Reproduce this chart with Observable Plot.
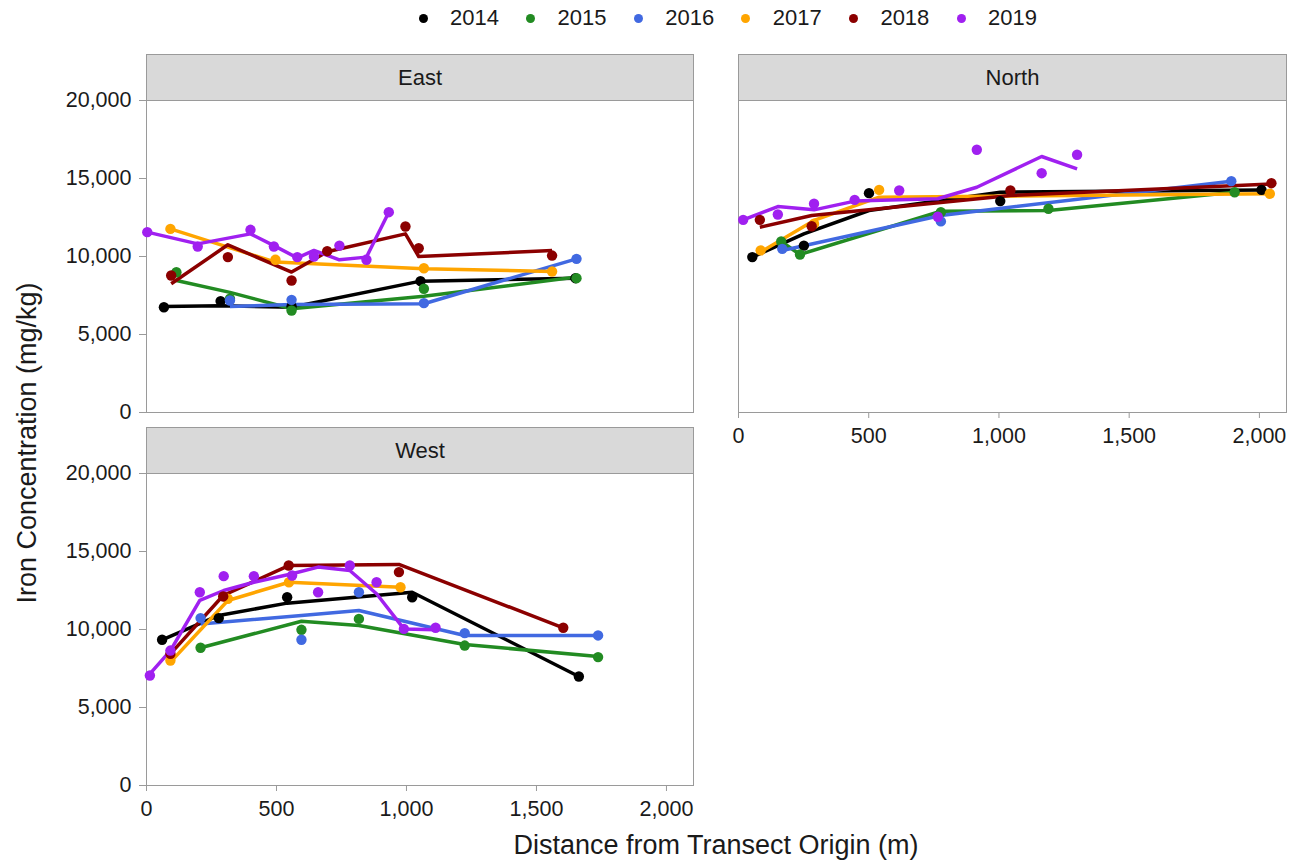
<!DOCTYPE html>
<html>
<head>
<meta charset="utf-8">
<script src="https://cdn.jsdelivr.net/npm/d3@7"></script>
<script src="https://cdn.jsdelivr.net/npm/@observablehq/plot@0.6"></script>
<style>
  body { margin: 0; background: #fff; font-family: "Liberation Sans", Arial, sans-serif; }
  #chart { position: relative; width: 1301px; height: 863px; overflow: hidden; background: #fff; }
  #chart svg { position: absolute; overflow: visible; }
  .strip { position: absolute; box-sizing: border-box; background: #d9d9d9; border: 1px solid #9a9a9a;
           display: flex; align-items: center; justify-content: center; font-size: 22px; color: #1a1a1a; }
  .legend-dot { position: absolute; width: 9px; height: 9px; border-radius: 50%; }
  .legend-label { position: absolute; font-size: 22px; color: #1a1a1a; line-height: 1; }
  .title { position: absolute; font-size: 27px; color: #1a1a1a; white-space: nowrap; line-height: 1; }
</style>
</head>
<body>
<div id="chart"></div>
<script>
// Sampling years and their colours
const years = ["2014", "2015", "2016", "2017", "2018", "2019"];
const yearColors = ["#000000", "#228B22", "#4169E1", "#FFA500", "#8B0000", "#A020F0"];

// Axis ticks
const xTicks = [0, 500, 1000, 1500, 2000];
const yTicks = [0, 5000, 10000, 15000, 20000];
const xDomain = [0, 2104];
const yDomain = [0, 20000];

// Observed samples: [year, distance (m), iron (mg/kg)]
const eastPoints = [
  ["2014", 67, 6750], ["2014", 285, 7140], ["2014", 558, 6800], ["2014", 1054, 8420], ["2014", 1650, 8610],
  ["2015", 115, 8990], ["2015", 321, 7290], ["2015", 558, 6540], ["2015", 1067, 7930], ["2015", 1654, 8610],
  ["2016", 321, 7180], ["2016", 558, 7220], ["2016", 1067, 7010], ["2016", 1654, 9850],
  ["2017", 92, 11770], ["2017", 496, 9790], ["2017", 1067, 9250], ["2017", 1560, 9040],
  ["2018", 95, 8780], ["2018", 313, 9960], ["2018", 558, 8460], ["2018", 695, 10340], ["2018", 996, 11920], ["2018", 1047, 10530], ["2018", 1560, 10060],
  ["2019", 3, 11560], ["2019", 197, 10640], ["2019", 400, 11710], ["2019", 490, 10640], ["2019", 580, 9960], ["2019", 644, 10000], ["2019", 742, 10700], ["2019", 846, 9790], ["2019", 932, 12840]
];
const northPoints = [
  ["2014", 53, 9960], ["2014", 251, 10700], ["2014", 501, 14060], ["2014", 1005, 13550], ["2014", 2008, 14270],
  ["2015", 164, 10960], ["2015", 236, 10130], ["2015", 777, 12840], ["2015", 1190, 13060], ["2015", 1905, 14120],
  ["2016", 168, 10490], ["2016", 777, 12250], ["2016", 1892, 14830],
  ["2017", 85, 10390], ["2017", 290, 12100], ["2017", 540, 14270], ["2017", 2040, 14020],
  ["2018", 82, 12350], ["2018", 281, 11940], ["2018", 1044, 14230], ["2018", 2046, 14700],
  ["2019", 18, 12350], ["2019", 151, 12690], ["2019", 290, 13380], ["2019", 446, 13630], ["2019", 617, 14230], ["2019", 765, 12550], ["2019", 915, 16840], ["2019", 1164, 15340], ["2019", 1300, 16520]
];
const westPoints = [
  ["2014", 60, 9340], ["2014", 278, 10730], ["2014", 541, 12070], ["2014", 1022, 12070], ["2014", 1663, 6990],
  ["2015", 208, 8830], ["2015", 596, 9980], ["2015", 817, 10680], ["2015", 1224, 8970], ["2015", 1737, 8230],
  ["2016", 208, 10730], ["2016", 596, 9340], ["2016", 817, 12390], ["2016", 1224, 9770], ["2016", 1737, 9620],
  ["2017", 92, 8010], ["2017", 313, 11970], ["2017", 548, 13030], ["2017", 977, 12710],
  ["2018", 92, 8440], ["2018", 295, 12120], ["2018", 547, 14100], ["2018", 971, 13680], ["2018", 1603, 10110],
  ["2019", 13, 7050], ["2019", 92, 8650], ["2019", 205, 12390], ["2019", 297, 13420], ["2019", 413, 13420], ["2019", 560, 13460], ["2019", 660, 12390], ["2019", 782, 14100], ["2019", 885, 13030], ["2019", 990, 10040], ["2019", 1112, 10110]
];

// Fitted trend at each sampled distance: [year, distance (m), iron (mg/kg)]
const eastFit = [
  ["2014", 67, 6800], ["2014", 285, 6840], ["2014", 558, 6750], ["2014", 1054, 8420], ["2014", 1650, 8610],
  ["2015", 115, 8460], ["2015", 321, 7700], ["2015", 558, 6650], ["2015", 1067, 7450], ["2015", 1654, 8680],
  ["2016", 321, 6800], ["2016", 558, 6920], ["2016", 1067, 6970], ["2016", 1654, 9850],
  ["2017", 92, 11770], ["2017", 496, 9640], ["2017", 1067, 9210], ["2017", 1560, 9040],
  ["2018", 95, 8250], ["2018", 313, 10750], ["2018", 558, 9000], ["2018", 695, 10300], ["2018", 996, 11450], ["2018", 1047, 10000], ["2018", 1560, 10380],
  ["2019", 3, 11560], ["2019", 197, 10810], ["2019", 400, 11450], ["2019", 490, 10700], ["2019", 580, 9910], ["2019", 644, 10390], ["2019", 742, 9790], ["2019", 846, 9960], ["2019", 932, 12840]
];
const northFit = [
  ["2014", 53, 9960], ["2014", 251, 11450], ["2014", 501, 12950], ["2014", 1005, 14120], ["2014", 2008, 14270],
  ["2015", 164, 10960], ["2015", 236, 10130], ["2015", 777, 12900], ["2015", 1190, 12950], ["2015", 1905, 14120],
  ["2016", 168, 10390], ["2016", 777, 12630], ["2016", 1892, 14830],
  ["2017", 85, 10280], ["2017", 290, 12310], ["2017", 540, 13800], ["2017", 2040, 14020],
  ["2018", 82, 11880], ["2018", 281, 12630], ["2018", 1044, 13910], ["2018", 2046, 14650],
  ["2019", 18, 12350], ["2019", 151, 13200], ["2019", 290, 12990], ["2019", 446, 13550], ["2019", 617, 13630], ["2019", 765, 13700], ["2019", 915, 14440], ["2019", 1164, 16410], ["2019", 1300, 15620]
];
const westFit = [
  ["2014", 60, 9340], ["2014", 278, 10900], ["2014", 541, 11690], ["2014", 1022, 12390], ["2014", 1663, 6990],
  ["2015", 208, 8830], ["2015", 596, 10530], ["2015", 817, 10260], ["2015", 1224, 9040], ["2015", 1737, 8270],
  ["2016", 208, 10360], ["2016", 596, 10900], ["2016", 817, 11220], ["2016", 1224, 9620], ["2016", 1737, 9620],
  ["2017", 92, 7910], ["2017", 313, 11860], ["2017", 548, 13030], ["2017", 977, 12710],
  ["2018", 92, 8440], ["2018", 295, 12180], ["2018", 547, 14100], ["2018", 971, 14170], ["2018", 1603, 10110],
  ["2019", 13, 7160], ["2019", 92, 8650], ["2019", 205, 11860], ["2019", 297, 12500], ["2019", 413, 13030], ["2019", 560, 13570], ["2019", 660, 14000], ["2019", 782, 13780], ["2019", 885, 12290], ["2019", 990, 10040], ["2019", 1112, 9980]
];

const chart = document.getElementById("chart");
const fmt = d3.format(",");
const tickStroke = "#9a9a9a";
const textFill = "#1a1a1a";

// One facet panel: frame, fitted lines, sample dots, optional axes
function panel({points, fit, left, top, width, height, marginLeft, marginRight, marginBottom, showX, showY}) {
  const marks = [
    Plot.frame({stroke: tickStroke}),
    Plot.line(fit, {x: d => d[1], y: d => d[2], z: d => d[0], stroke: d => d[0], strokeWidth: 3.5, strokeLinejoin: "round", strokeLinecap: "butt"}),
    Plot.dot(points, {x: d => d[1], y: d => d[2], fill: d => d[0], r: 5.2})
  ];
  if (showY) marks.push(Plot.axisY({ticks: yTicks, tickFormat: fmt, tickSize: 7, tickPadding: 8, stroke: tickStroke, fill: textFill, fontSize: 21.5, label: null}));
  if (showX) marks.push(Plot.axisX({ticks: xTicks, tickFormat: fmt, tickSize: 6, tickPadding: 9, stroke: tickStroke, fill: textFill, fontSize: 21.5, label: null}));
  const svg = Plot.plot({
    width, height,
    marginTop: 10, marginBottom, marginLeft, marginRight,
    x: {domain: xDomain, axis: null},
    y: {domain: yDomain, axis: null},
    color: {domain: years, range: yearColors},
    style: {background: "transparent", fontFamily: "Liberation Sans, Arial, sans-serif", overflow: "visible"},
    marks
  });
  svg.style.left = left + "px";
  svg.style.top = top + "px";
  chart.appendChild(svg);
}

panel({points: eastPoints, fit: eastFit, left: 0, top: 90, width: 700, height: 332, marginLeft: 146, marginRight: 7, marginBottom: 10, showX: false, showY: true});
panel({points: northPoints, fit: northFit, left: 728, top: 90, width: 565, height: 362, marginLeft: 10, marginRight: 7, marginBottom: 40, showX: true, showY: false});
panel({points: westPoints, fit: westFit, left: 0, top: 463, width: 700, height: 382, marginLeft: 146, marginRight: 7, marginBottom: 60, showX: true, showY: true});

// Facet strips
function strip(label, left, top, width) {
  const d = document.createElement("div");
  d.className = "strip";
  d.style.left = left + "px"; d.style.top = top + "px";
  d.style.width = width + "px"; d.style.height = "47px";
  d.textContent = label;
  chart.appendChild(d);
}
strip("East", 146, 54, 548);
strip("North", 738, 54, 549);
strip("West", 146, 427, 548);

// Year legend across the top
years.forEach((y, i) => {
  const cx = 423 + i * 107.6;
  const dot = document.createElement("div");
  dot.className = "legend-dot";
  dot.style.background = yearColors[i];
  dot.style.left = (cx - 4.5) + "px"; dot.style.top = (18 - 4.5) + "px";
  chart.appendChild(dot);
  const lab = document.createElement("div");
  lab.className = "legend-label";
  lab.textContent = y;
  lab.style.left = (cx + 27) + "px"; lab.style.top = "7px";
  chart.appendChild(lab);
});

// Axis titles
const xt = document.createElement("div");
xt.className = "title";
xt.textContent = "Distance from Transect Origin (m)";
xt.style.left = "716px"; xt.style.top = "845px";
xt.style.transform = "translate(-50%, -50%)";
chart.appendChild(xt);

const yt = document.createElement("div");
yt.className = "title";
yt.textContent = "Iron Concentration (mg/kg)";
yt.style.left = "27px"; yt.style.top = "443px";
yt.style.transform = "translate(-50%, -50%) rotate(-90deg)";
chart.appendChild(yt);
</script>
</body>
</html>
